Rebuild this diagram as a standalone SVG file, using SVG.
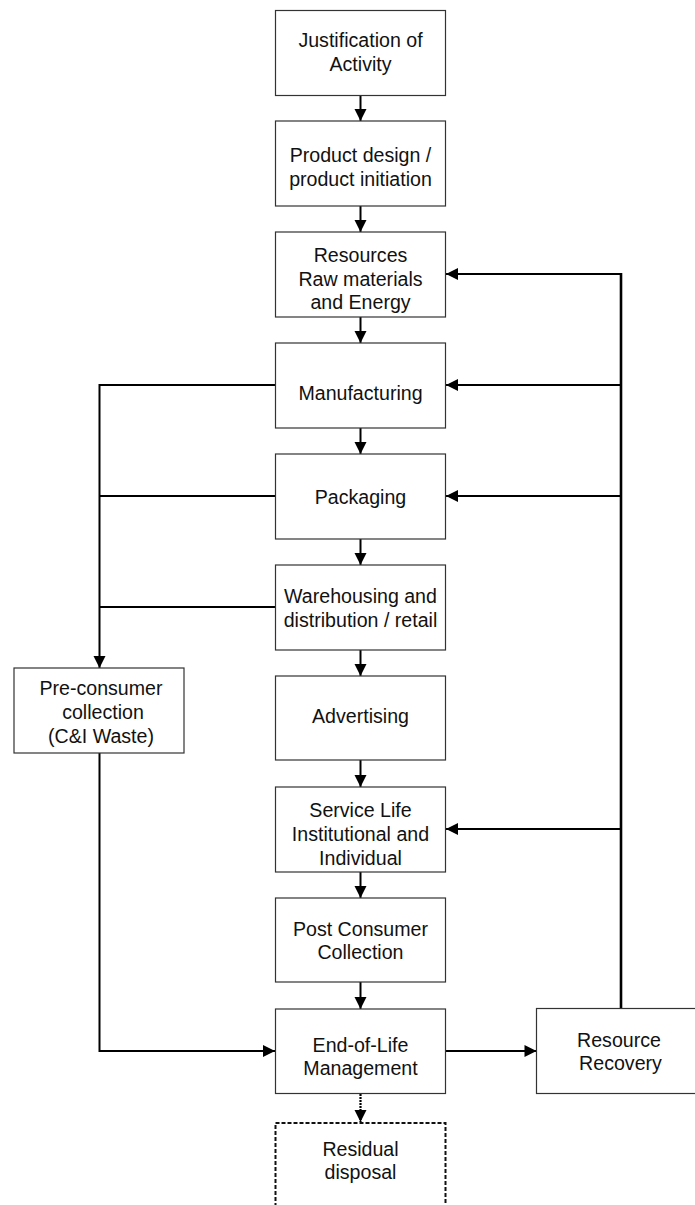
<svg xmlns="http://www.w3.org/2000/svg" width="695" height="1205" viewBox="0 0 695 1205">
  <defs>
    <marker id="arrow" markerUnits="userSpaceOnUse" markerWidth="12" markerHeight="12" refX="12" refY="6" orient="auto" overflow="visible">
      <path d="M0,0 L12,6 L0,12 Z" fill="#000"/>
    </marker>
    <style>
      .box { fill: #fff; stroke: #333; stroke-width: 1.2; }
      .dashed { fill: #fff; stroke: #111; stroke-width: 2; stroke-dasharray: 4 2; }
      .lbl { font-family: "Liberation Sans", Arial, sans-serif; font-size: 19.6px; fill: #111; text-anchor: middle; }
      .flow { fill: none; stroke: #000; stroke-width: 2; }
      .arr { marker-end: url(#arrow); }
      .dot { fill: none; stroke: #000; stroke-width: 2.2; stroke-dasharray: 2 1; }
      .trunk { fill: none; stroke: #000; stroke-width: 2.6; }
    </style>
  </defs>

  <rect width="695" height="1205" fill="#fff"/>

  <!-- connectors -->
  <g id="connectors">
    <!-- main vertical chain -->
    <line class="flow arr" x1="360.5" y1="96" x2="360.5" y2="121"/>
    <line class="flow arr" x1="360.5" y1="206" x2="360.5" y2="232"/>
    <line class="flow arr" x1="360.5" y1="317" x2="360.5" y2="343"/>
    <line class="flow arr" x1="360.5" y1="428" x2="360.5" y2="454"/>
    <line class="flow arr" x1="360.5" y1="539" x2="360.5" y2="565"/>
    <line class="flow arr" x1="360.5" y1="650" x2="360.5" y2="676"/>
    <line class="flow arr" x1="360.5" y1="760" x2="360.5" y2="787"/>
    <line class="flow arr" x1="360.5" y1="872" x2="360.5" y2="898"/>
    <line class="flow arr" x1="360.5" y1="982" x2="360.5" y2="1009"/>
    <!-- to residual disposal -->
    <line class="dot arr" x1="360.5" y1="1094" x2="360.5" y2="1122"/>

    <!-- pre-consumer waste collection (left side) -->
    <polyline class="flow" points="275,385 99.5,385"/>
    <polyline class="flow" points="275,496 99.5,496"/>
    <polyline class="flow" points="275,607 99.5,607"/>
    <line class="flow arr" x1="99.5" y1="384" x2="99.5" y2="668"/>
    <polyline class="flow arr" points="99.5,753 99.5,1051 275,1051"/>

    <!-- end-of-life to resource recovery -->
    <line class="flow arr" x1="446" y1="1051" x2="536.5" y2="1051"/>

    <!-- recovered resources returned upstream (right side) -->
    <line class="trunk" x1="621" y1="1008" x2="621" y2="273"/>
    <line class="flow arr" x1="622" y1="274" x2="446" y2="274"/>
    <line class="flow arr" x1="622" y1="385" x2="446" y2="385"/>
    <line class="flow arr" x1="622" y1="496" x2="446" y2="496"/>
    <line class="flow arr" x1="622" y1="829" x2="446" y2="829"/>
  </g>

  <!-- nodes -->
  <g id="justification">
    <rect class="box" x="275.5" y="10.5" width="170" height="85"/>
    <text class="lbl" x="360.5" y="46.5">Justification of</text>
    <text class="lbl" x="360.5" y="71">Activity</text>
  </g>

  <g id="product-design">
    <rect class="box" x="275.5" y="121" width="170" height="85"/>
    <text class="lbl" x="360.5" y="161.5">Product design /</text>
    <text class="lbl" x="360.5" y="186">product initiation</text>
  </g>

  <g id="resources">
    <rect class="box" x="275.5" y="232" width="170" height="85"/>
    <text class="lbl" x="360.5" y="262">Resources</text>
    <text class="lbl" x="360.5" y="285.5">Raw materials</text>
    <text class="lbl" x="360.5" y="309">and Energy</text>
  </g>

  <g id="manufacturing">
    <rect class="box" x="275.5" y="343" width="170" height="85"/>
    <text class="lbl" x="360.5" y="399.5">Manufacturing</text>
  </g>

  <g id="packaging">
    <rect class="box" x="275.5" y="454" width="170" height="85"/>
    <text class="lbl" x="360.5" y="503.5">Packaging</text>
  </g>

  <g id="warehousing">
    <rect class="box" x="275.5" y="565" width="170" height="85"/>
    <text class="lbl" x="360.5" y="603">Warehousing and</text>
    <text class="lbl" x="360.5" y="626.5">distribution / retail</text>
  </g>

  <g id="advertising">
    <rect class="box" x="275.5" y="676" width="170" height="84"/>
    <text class="lbl" x="360.5" y="723">Advertising</text>
  </g>

  <g id="service-life">
    <rect class="box" x="275.5" y="787" width="170" height="85"/>
    <text class="lbl" x="360.5" y="816.5">Service Life</text>
    <text class="lbl" x="360.5" y="840.5">Institutional and</text>
    <text class="lbl" x="360.5" y="864.5">Individual</text>
  </g>

  <g id="post-consumer">
    <rect class="box" x="275.5" y="898" width="170" height="84"/>
    <text class="lbl" x="360.5" y="935.5">Post Consumer</text>
    <text class="lbl" x="360.5" y="959">Collection</text>
  </g>

  <g id="end-of-life">
    <rect class="box" x="275.5" y="1009" width="170" height="84.5"/>
    <text class="lbl" x="360.5" y="1052">End-of-Life</text>
    <text class="lbl" x="360.5" y="1075">Management</text>
  </g>

  <g id="residual-disposal">
    <rect class="dashed" x="275.5" y="1123" width="170" height="85"/>
    <text class="lbl" x="360.5" y="1155.5">Residual</text>
    <text class="lbl" x="360.5" y="1179">disposal</text>
  </g>

  <g id="pre-consumer">
    <rect class="box" x="14" y="668" width="170" height="85"/>
    <text class="lbl" x="101" y="695">Pre-consumer</text>
    <text class="lbl" x="103" y="719">collection</text>
    <text class="lbl" x="101" y="742.5">(C&amp;I Waste)</text>
  </g>

  <g id="resource-recovery">
    <rect class="box" x="536.5" y="1008.5" width="170" height="85"/>
    <text class="lbl" x="619" y="1046.5">Resource</text>
    <text class="lbl" x="620.5" y="1070">Recovery</text>
  </g>
</svg>
